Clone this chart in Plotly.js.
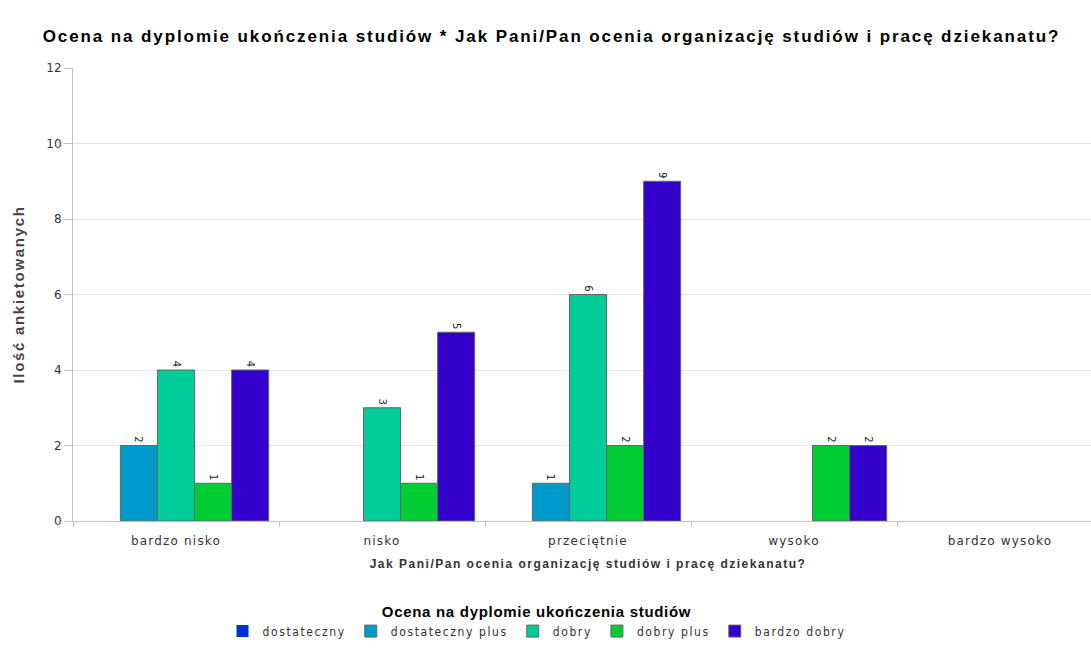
<!DOCTYPE html>
<html>
<head>
<meta charset="utf-8">
<script src="https://cdn.plot.ly/plotly-3.0.1.min.js"></script>
<style>
html,body{margin:0;padding:0;overflow:hidden;background:#fff;}
#chart{width:1103px;height:651px;}
.gtitle{letter-spacing:1.9px;}
.xtitle{letter-spacing:1.5px;}
.ytitle{letter-spacing:1.7px;}
.xtick text{letter-spacing:1.2px;}
.legendtext{letter-spacing:1.6px;}
.legendtitletext{letter-spacing:0.7px;}
</style>
</head>
<body>
<div id="chart"></div>
<script>
const categories = ["bardzo nisko", "nisko", "przeciętnie", "wysoko", "bardzo wysoko"];
const seriesNames = ["dostateczny", "dostateczny plus", "dobry", "dobry plus", "bardzo dobry"];
const dostateczny = [0, 0, 0, 0, 0];
const dostatecznyPlus = [2, 0, 1, 0, 0];
const dobry = [4, 3, 6, 0, 0];
const dobryPlus = [1, 1, 2, 2, 0];
const bardzoDobry = [4, 5, 9, 2, 0];
const seriesColors = ["#0033cc", "#0099cc", "#00cc99", "#00cc33", "#3300cc"];
const yTicks = [0, 2, 4, 6, 8, 10, 12];

const seriesValues = [dostateczny, dostatecznyPlus, dobry, dobryPlus, bardzoDobry];
const traces = seriesValues.map((vals, i) => ({
  type: "bar",
  name: seriesNames[i],
  x: categories,
  y: vals,
  text: vals.map(v => v ? String(v) : ""),
  textposition: "outside",
  textangle: 90,
  constraintext: "none",
  cliponaxis: false,
  textfont: {family: "DejaVu Sans", size: 10, color: "#222"},
  marker: {color: seriesColors[i], line: {color: "#666666", width: vals.map(v => v ? 1 : 0)}},
  hoverinfo: "none"
}));

const layout = {
  width: 1103,
  height: 651,
  margin: {l: 73, r: 0, t: 68, b: 130},
  paper_bgcolor: "#ffffff",
  plot_bgcolor: "#ffffff",
  barmode: "group",
  bargap: 0.1,
  bargroupgap: 0,
  showlegend: true,
  title: {
    text: "Ocena na dyplomie ukończenia studiów * Jak Pani/Pan ocenia organizację studiów i pracę dziekanatu?",
    font: {family: "Liberation Sans", size: 17, color: "#000", weight: "bold"},
    x: 0.5, xanchor: "center",
    y: 1 - 36/651, yanchor: "middle", yref: "container"
  },
  xaxis: {
    type: "category",
    range: [-0.5, 4.5],
    tickson: "boundaries",
    ticks: "outside",
    ticklen: 5,
    tickcolor: "#c0c0c0",
    ticklabelstandoff: 9,
    showline: true,
    linecolor: "#c0c0c0",
    linewidth: 1,
    showgrid: false,
    tickfont: {family: "DejaVu Sans", size: 12, color: "#333"},
    title: {
      text: "Jak Pani/Pan ocenia organizację studiów i pracę dziekanatu?",
      font: {family: "Liberation Sans", size: 12, color: "#333", weight: "bold"},
      standoff: 12
    },
    fixedrange: true
  },
  yaxis: {
    range: [0, 12],
    tickvals: yTicks,
    ticks: "outside",
    ticklen: 8,
    tickcolor: "#c0c0c0",
    showline: true,
    linecolor: "#c0c0c0",
    showgrid: true,
    gridcolor: "#e6e6e6",
    zeroline: false,
    tickfont: {family: "DejaVu Sans", size: 12, color: "#333"},
    title: {
      text: "Ilość ankietowanych",
      font: {family: "Liberation Sans", size: 15, color: "#444", weight: "bold"},
      standoff: 18
    },
    fixedrange: true
  },
  legend: {
    orientation: "h",
    x: 0.45, xanchor: "center",
    y: -0.168, yanchor: "top",
    title: {
      text: "Ocena na dyplomie ukończenia studiów",
      side: "top center",
      font: {family: "Liberation Sans", size: 15, color: "#000", weight: "bold"}
    },
    font: {family: "DejaVu Sans Condensed, DejaVu Sans", size: 12, color: "#333"},
    traceorder: "normal"
  }
};

Plotly.newPlot("chart", traces, layout, {staticPlot: true, displayModeBar: false});
</script>
</body>
</html>
